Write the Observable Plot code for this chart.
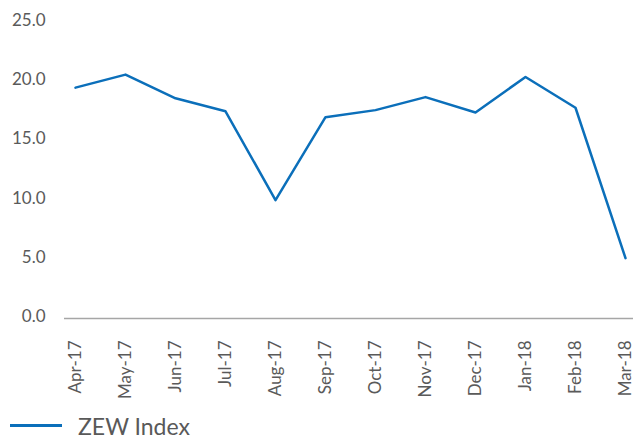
<!DOCTYPE html>
<html><head><meta charset="utf-8">
<script src="https://cdn.jsdelivr.net/npm/d3@7"></script>
<script src="https://cdn.jsdelivr.net/npm/@observablehq/plot@0.6"></script>
<style>
body{margin:0;background:#fff;font-family:Lato,"Noto Sans",sans-serif;}
#legend{display:flex;align-items:center;height:31px;color:#595959;font-size:23px;font-weight:400;}
#legend .sw{display:inline-block;width:52px;height:3px;background:#0b6fba;margin-left:10px;margin-right:16px;}
</style>
</head><body>
<div id="chart"></div>
<div id="legend"><span class="sw"></span><span>ZEW Index</span></div>
<script>
const months = ["Apr-17","May-17","Jun-17","Jul-17","Aug-17","Sep-17","Oct-17","Nov-17","Dec-17","Jan-18","Feb-18","Mar-18"];
const zew = [19.5,20.6,18.6,17.5,10.0,17.0,17.6,18.7,17.4,20.4,17.8,5.1];
const yTicks = [0,5,10,15,20,25];
const data = months.map((m,i)=>({month:m,value:zew[i]}));
const chart = Plot.plot({
  width:633, height:410,
  marginTop:22, marginBottom:92, marginLeft:70, marginRight:4,
  style:{fontFamily:"Lato, 'Noto Sans', sans-serif", fontSize:"16px", fontWeight:400, color:"#5a5a5a", background:"#fff"},
  x:{type:"point", domain:months, padding:0, label:null},
  y:{domain:[0,25], label:null},
  marks:[
    Plot.axisY({ticks:yTicks, tickFormat:d3.format(".1f"), tickSize:0, tickPadding:25, dy:-2, fontSize:17, label:null}),
    Plot.axisX({tickSize:0, tickRotate:-90, tickPadding:22, fontSize:17, label:null}),
    Plot.ruleY([0],{stroke:"#a6a6a6", strokeWidth:1.5, insetLeft:-6, insetRight:-4}),
    Plot.line(data,{x:"month", y:"value", stroke:"#0b6fba", strokeWidth:2.5})
  ]
});
document.getElementById("chart").appendChild(chart);
</script>
</body></html>
